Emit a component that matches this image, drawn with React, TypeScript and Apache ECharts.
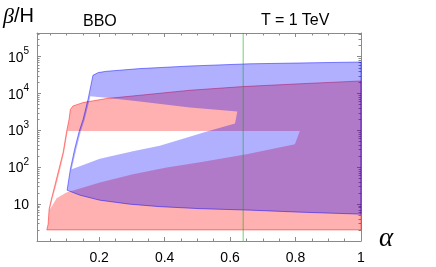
import React, { useEffect, useRef } from 'react';
import * as echarts from 'echarts';

// ---- axes ----
const X_MIN = 0.01;
const X_MAX = 1;
const Y_MIN = 1;
const Y_MAX = 440000;
const X_LABEL_TICKS = [0.2, 0.4, 0.6, 0.8, 1];
const X_MINOR_TICKS = [0.05, 0.1, 0.15, 0.25, 0.3, 0.35, 0.45, 0.5, 0.55, 0.65, 0.7, 0.75, 0.85, 0.9, 0.95];
const Y_LABEL_TICKS = [10, 100, 1000, 10000, 100000];
const Y_MAJOR_TICKS = [1, 10, 100, 1000, 10000, 100000];
const Y_MINOR_MANTISSAS = [2, 3, 4, 5, 6, 7, 8, 9];
const Y_MINOR_TICKS = Y_MAJOR_TICKS.flatMap((d) => Y_MINOR_MANTISSAS.map((m) => m * d)).filter((v) => v < Y_MAX);

// ---- red region (outer boundary and inner hole) ----
const RED_OUTER_X = [0.04, 0.044, 0.047, 0.054, 0.064, 0.077, 0.09, 0.1, 0.108, 0.112, 0.12, 0.151, 0.222, 0.324, 0.477, 0.639, 0.813, 1.0, 1.0];
const RED_OUTER_Y = [2.0, 2.87, 7.32, 13.7, 30.8, 88.8, 257, 894, 2011, 3753, 4613, 5705, 7320, 8995, 12290, 15480, 18430, 21960, 2.0];
const RED_HOLE_X = [0.104, 0.813, 0.798, 0.65, 0.508, 0.406, 0.303, 0.202, 0.151, 0.1, 0.07, 0.05, 0.057, 0.068, 0.081, 0.093];
const RED_HOLE_Y = [970, 970, 423, 226, 137, 98.8, 65, 38.7, 28.4, 20.8, 14.5, 7.32, 13.7, 30.8, 88.8, 257];

// ---- blue region (outer boundary and inner hole) ----
const BLUE_OUTER_X = [0.102, 0.112, 0.125, 0.139, 0.151, 0.166, 0.181, 0.197, 0.222, 0.324, 0.477, 0.66, 1.0, 1.0, 0.813, 0.66, 0.508, 0.385, 0.293, 0.202, 0.141];
const BLUE_OUTER_Y = [23.9, 88.8, 309, 951, 2011, 7007, 31330, 37070, 40210, 47590, 55980, 64220, 71850, 5.36, 6.07, 6.88, 7.55, 8.56, 10, 12.8, 17.5];
const BLUE_HOLE_X = [0.173, 0.222, 0.324, 0.477, 0.622, 0.615, 0.529, 0.446, 0.385, 0.303, 0.202, 0.116, 0.13, 0.144, 0.156, 0.171];
const BLUE_HOLE_Y = [8450, 7690, 6070, 4175, 3253, 1538, 934, 560, 385, 273, 171, 88.8, 309, 951, 2011, 7007];

// ---- vertical marker ----
const ALPHA_MARK = 0.64;

const FRAME = '#8a8a8a';
const SANS = '"Liberation Sans", Arial, sans-serif';
const SERIF = '"Liberation Serif", "Times New Roman", serif';

const signedArea = (pts: number[][]) => {
  let s = 0;
  for (let i = 0; i < pts.length; i++) {
    const a = pts[i];
    const b = pts[(i + 1) % pts.length];
    s += a[0] * b[1] - b[0] * a[1];
  }
  return s;
};
const toD = (pts: number[][]) =>
  pts.map((p, i) => (i ? 'L' : 'M') + p[0].toFixed(2) + ' ' + p[1].toFixed(2)).join(' ') + ' Z';

function regionSeries(
  name: string,
  ox: number[], oy: number[], hx: number[], hy: number[],
  fill: string, stroke: string
) {
  return {
    type: 'custom',
    name,
    coordinateSystem: 'cartesian2d',
    xAxisIndex: 0,
    yAxisIndex: 0,
    silent: true,
    data: [[ox[0], oy[0]]],
    renderItem: (params: any, api: any) => {
      if (params.dataIndex !== 0) return null;
      const outer = ox.map((x, i) => api.coord([x, oy[i]]));
      let hole = hx.map((x, i) => api.coord([x, hy[i]]));
      if (Math.sign(signedArea(outer)) === Math.sign(signedArea(hole))) hole = hole.slice().reverse();
      return {
        type: 'group',
        children: [
          { type: 'path', shape: { pathData: toD(outer) + ' ' + toD(hole) }, style: { fill, stroke: 'none' } },
          { type: 'polygon', shape: { points: outer }, style: { fill: 'none', stroke, lineWidth: 1 } },
        ],
      };
    },
  };
}

export default function App() {
  const ref = useRef<HTMLDivElement>(null);
  useEffect(() => {
    if (!ref.current) return;
    const chart = echarts.init(ref.current, undefined, { renderer: 'svg' });

    const xBase = {
      type: 'value', min: X_MIN, max: X_MAX, splitLine: { show: false },
    };
    const yBase = {
      type: 'log', logBase: 10, min: Y_MIN, max: Y_MAX, splitLine: { show: false },
    };
    const lineOn = { show: true, onZero: false, lineStyle: { color: FRAME, width: 1 } };
    const lineOff = { show: false, onZero: false };
    const tick = (vals: number[], len: number) => ({
      show: true, inside: true, length: len, customValues: vals, lineStyle: { color: FRAME, width: 1 },
    });

    const option: any = {
      animation: false,
      grid: { left: 37, right: 75, top: 33, bottom: 26, containLabel: false },
      xAxis: [
        {
          ...xBase, position: 'bottom', axisLine: lineOn, axisTick: tick(X_LABEL_TICKS, 4),
          axisLabel: {
            show: true, customValues: X_LABEL_TICKS, margin: 9, color: '#000', fontSize: 14, fontFamily: SANS,
            formatter: (v: number) => String(v),
          },
        },
        { ...xBase, position: 'bottom', axisLine: lineOff, axisTick: tick(X_MINOR_TICKS, 2.5), axisLabel: { show: false } },
        { ...xBase, position: 'top', axisLine: lineOn, axisTick: tick(X_LABEL_TICKS, 4), axisLabel: { show: false } },
        { ...xBase, position: 'top', axisLine: lineOff, axisTick: tick(X_MINOR_TICKS, 2.5), axisLabel: { show: false } },
      ],
      yAxis: [
        {
          ...yBase, position: 'left', axisLine: lineOn, axisTick: tick(Y_MAJOR_TICKS, 4),
          axisLabel: {
            show: true, customValues: Y_LABEL_TICKS, margin: 8, color: '#000',
            formatter: (v: number) => {
              const k = Math.round(Math.log10(v));
              return k === 1 ? '{b|10}' : '{b|10}{s|' + k + '}';
            },
            rich: {
              b: { fontSize: 14, fontFamily: SANS, color: '#000', lineHeight: 16 },
              s: { fontSize: 10, fontFamily: SANS, color: '#000', lineHeight: 12, padding: [0, 0, 12, 0] },
            },
          },
        },
        { ...yBase, position: 'left', axisLine: lineOff, axisTick: tick(Y_MINOR_TICKS, 2.5), axisLabel: { show: false } },
        { ...yBase, position: 'right', axisLine: lineOn, axisTick: tick(Y_MAJOR_TICKS, 4), axisLabel: { show: false } },
        { ...yBase, position: 'right', axisLine: lineOff, axisTick: tick(Y_MINOR_TICKS, 2.5), axisLabel: { show: false } },
      ],
      series: [
        regionSeries('red', RED_OUTER_X, RED_OUTER_Y, RED_HOLE_X, RED_HOLE_Y, 'rgba(255,0,0,0.31)', 'rgba(255,0,0,0.45)'),
        regionSeries('blue', BLUE_OUTER_X, BLUE_OUTER_Y, BLUE_HOLE_X, BLUE_HOLE_Y, 'rgba(0,0,255,0.31)', 'rgba(0,0,255,0.45)'),
        {
          type: 'line', name: 'marker', xAxisIndex: 0, yAxisIndex: 0, silent: true,
          data: [[ALPHA_MARK, Y_MIN], [ALPHA_MARK, Y_MAX]],
          symbol: 'none', lineStyle: { color: 'rgba(0,170,0,0.55)', width: 1 },
        },
      ],
      graphic: [
        {
          type: 'text', x: 3, y: 15,
          style: {
            text: '{g|β}{h|/H}', verticalAlign: 'middle', fill: '#000',
            rich: {
              g: { fontFamily: SERIF, fontStyle: 'italic', fontSize: 22, fill: '#000' },
              h: { fontFamily: SANS, fontSize: 20, fill: '#000' },
            },
          },
        },
        { type: 'text', x: 83, y: 20, style: { text: 'BBO', fontFamily: SANS, fontSize: 16, verticalAlign: 'middle', fill: '#000' } },
        { type: 'text', x: 261, y: 19.5, style: { text: 'T = 1 TeV', fontFamily: SANS, fontSize: 16, verticalAlign: 'middle', fill: '#000' } },
        {
          type: 'text', x: 386, y: 237,
          style: { text: 'α', fontFamily: SERIF, fontStyle: 'italic', fontSize: 27, align: 'center', verticalAlign: 'middle', fill: '#000' },
        },
      ],
    };
    chart.setOption(option);
    return () => chart.dispose();
  }, []);
  return <div ref={ref} style={{ position: 'fixed', left: 0, top: 0, width: 436, height: 267 }} />;
}
